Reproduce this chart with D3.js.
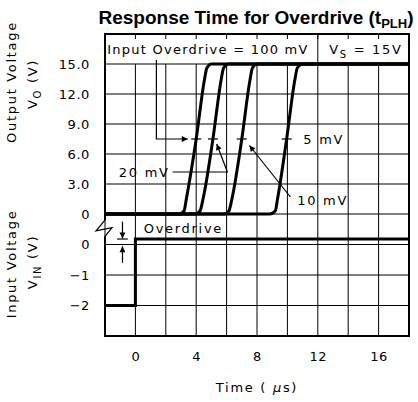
<!DOCTYPE html>
<html>
<head>
    <meta charset="utf-8">
    <title>Response Time for Overdrive</title>
    <script src='https://d3js.org/d3.v7.min.js'></script>
    <style>
        html, body { margin: 0; padding: 0; background: #fff; }
        text { font-family: 'DejaVu Sans', sans-serif; fill: #000; }
        .lbl { font-size: 13px; letter-spacing: 1.7px; }
        .tick text { font-size: 13px; letter-spacing: 0.6px; }
        .grid { stroke: #000; stroke-width: 1; }
        .trace { fill: none; stroke: #000; stroke-width: 3; }
        .thin { fill: none; stroke: #000; stroke-width: 1.2; }
    </style>
</head>
<body>
<div id="vis"></div>
<script>

// ticks
var xTicks = [0, 4, 8, 12, 16];
var voTicks = [0, 3, 6, 9, 12, 15];
var vinTicks = [0, -1, -2];

// output traces, one per overdrive (time in us, volts)
var overdrives = ['100 mV', '20 mV', '10 mV', '5 mV'];
var t100 = [-2, 2.9, 3.2, 3.35, 4.0, 4.55, 4.7, 5.0, 18];
var v100 = [0, 0, 0.3, 1.5, 7.5, 13.5, 14.6, 15, 15];
var t20 = [-2, 3.95, 4.25, 4.45, 5.1, 5.65, 5.8, 6.1, 18];
var v20 = [0, 0, 0.3, 1.5, 7.5, 13.5, 14.6, 15, 15];
var t10 = [-2, 5.85, 6.15, 6.35, 7.0, 7.55, 7.7, 8.0, 18];
var v10 = [0, 0, 0.3, 1.5, 7.5, 13.5, 14.6, 15, 15];
var t5 = [-2, 8.85, 9.2, 9.35, 9.95, 10.5, 10.65, 11.0, 18];
var v5 = [0, 0, 0.3, 1.5, 7.5, 13.5, 14.6, 15, 15];
var crossT = [4.0, 5.1, 7.0, 9.95];   // 50% points (7.5 V)

// input step
var vinT = [-2, 0, 0, 18];
var vinV = [-2, -2, 0.18, 0.18];

var width = 418, height = 402;
var svg = d3.select('#vis').append('svg')
    .attr('width', width)
    .attr('height', height);

var pLeft = 105, pRight = 409, pTop = 34, pMid = 214, pBottom = 336;

var x = d3.scaleLinear().domain([-2, 18]).range([pLeft, pRight]);
var yo = d3.scaleLinear().domain([0, 18]).range([pMid, pTop]);
var yi = d3.scaleLinear().domain([-3, 1]).range([pBottom, pMid]);

// arrow head
svg.append('defs').append('marker')
    .attr('id', 'arr')
    .attr('viewBox', '0 0 10 10')
    .attr('refX', 10).attr('refY', 5)
    .attr('markerWidth', 9).attr('markerHeight', 6)
    .attr('markerUnits', 'userSpaceOnUse')
    .attr('orient', 'auto')
    .append('path').attr('d', 'M0,0L10,5L0,10z').attr('fill', '#000');

// grid
var g = svg.append('g');
g.selectAll('.vg').data(x.ticks(10)).enter().append('line')
    .attr('class', 'grid')
    .attr('x1', function(d) { return x(d); }).attr('x2', function(d) { return x(d); })
    .attr('y1', yo(15)).attr('y2', pBottom);
g.selectAll('.vt').data(x.ticks(10)).enter().append('line')
    .attr('class', 'grid')
    .attr('x1', function(d) { return x(d); }).attr('x2', function(d) { return x(d); })
    .attr('y1', pTop).attr('y2', pTop + 5);
g.selectAll('.hgo').data(voTicks).enter().append('line')
    .attr('class', 'grid')
    .attr('x1', pLeft).attr('x2', pRight)
    .attr('y1', function(d) { return yo(d); }).attr('y2', function(d) { return yo(d); });
g.selectAll('.hgi').data(vinTicks).enter().append('line')
    .attr('class', 'grid')
    .attr('x1', pLeft).attr('x2', pRight)
    .attr('y1', function(d) { return yi(d); }).attr('y2', function(d) { return yi(d); });

// V_S box divider
g.append('line').attr('class', 'grid')
    .attr('x1', x(12)).attr('x2', x(12)).attr('y1', pTop).attr('y2', yo(15));

// frame with break on the left
svg.append('path')
    .attr('fill', 'none').attr('stroke', '#000').attr('stroke-width', 2)
    .attr('d', 'M' + pLeft + ',' + yi(0.8) + 'V' + pTop + 'H' + pRight + 'V' + pBottom + 'H' + pLeft + 'V' + yi(0.27));
svg.append('path').attr('class', 'thin')
    .attr('d', d3.line()([[pLeft, yi(0.8)], [pLeft - 9, yi(0.45)], [pLeft + 7, yi(0.55)], [pLeft, yi(0.27)]]));

// output traces
var line = d3.line().curve(d3.curveMonotoneX)
    .x(function(d) { return x(d[0]); })
    .y(function(d) { return yo(d[1]); });
var traces = [[t100, v100], [t20, v20], [t10, v10], [t5, v5]];
svg.selectAll('.trace').data(traces).enter().append('path')
    .attr('class', 'trace')
    .attr('d', function(d) { return line(d3.zip(d[0], d[1])); });

// 50% marks
svg.selectAll('.mk').data(crossT).enter().append('line')
    .attr('class', 'thin')
    .attr('x1', function(d) { return x(d) - 5; }).attr('x2', function(d) { return x(d) + 5; })
    .attr('y1', yo(7.5)).attr('y2', yo(7.5));

// input trace
svg.append('path').attr('class', 'trace')
    .attr('d', d3.line().x(function(d) { return x(d[0]); }).y(function(d) { return yi(d[1]); })(d3.zip(vinT, vinV)));

// annotations
function lbl(t, v, s, sc) {
    return svg.append('text').attr('class', 'lbl')
        .attr('x', x(t)).attr('y', (sc || yo)(v)).attr('dy', '0.35em').text(s);
}
lbl(-1.85, 16.5, 'Input Overdrive = ' + overdrives[0]).style('letter-spacing', '1.25px');
var vs = lbl(12.75, 16.5, 'V');
vs.append('tspan').attr('font-size', '10px').attr('dy', '4').text('S');
vs.append('tspan').attr('dy', '-4').text(' = 15V');
lbl(2.25, 4.2, overdrives[1]).attr('text-anchor', 'end');
lbl(10.65, 1.4, overdrives[2]);
lbl(11.05, 7.5, overdrives[3]);
lbl(0.55, 0.52, 'Overdrive', yi);

svg.append('path').attr('class', 'thin').attr('marker-end', 'url(#arr)')
    .attr('d', d3.line()([[x(1.38), yo(15.4)], [x(1.38), yo(7.5)], [x(3.45), yo(7.5)]]));
svg.append('path').attr('class', 'thin').attr('marker-end', 'url(#arr)')
    .attr('d', d3.line()([[x(2.45), yo(4.2)], [x(6.05), yo(4.2)], [x(5.35), yo(7.0)]]));
svg.append('path').attr('class', 'thin').attr('marker-end', 'url(#arr)')
    .attr('d', d3.line()([[x(10.2), yo(1.7)], [x(7.5), yo(6.85)]]));

// overdrive arrows
svg.append('path').attr('class', 'thin').attr('marker-end', 'url(#arr)')
    .attr('d', d3.line()([[x(-0.85), yi(0.75)], [x(-0.85), yi(0.2)]]));
svg.append('path').attr('class', 'thin')
    .attr('d', d3.line()([[x(-1.2), yi(0.18)], [x(-0.5), yi(0.18)]]));
svg.append('path').attr('class', 'thin').attr('marker-end', 'url(#arr)')
    .attr('d', d3.line()([[x(-0.85), yi(-0.6)], [x(-0.85), yi(-0.06)]]));

// axes (labels only)
svg.append('g').attr('transform', 'translate(0,' + pBottom + ')')
    .call(d3.axisBottom(x).tickValues(xTicks).tickSize(0).tickPadding(16));
svg.append('g').attr('transform', 'translate(' + pLeft + ',0)')
    .call(d3.axisLeft(yo).tickValues(voTicks).tickSize(0).tickPadding(15)
        .tickFormat(function(d) { return d === 0 ? '0' : d3.format('.1f')(d); }));
svg.append('g').attr('transform', 'translate(' + pLeft + ',0)')
    .call(d3.axisLeft(yi).tickValues(vinTicks).tickSize(0).tickPadding(15)
        .tickFormat(d3.format('d')));
svg.selectAll('.domain').remove();
svg.selectAll('.tick text').attr('font-family', null).attr('font-size', null);

// axis titles
var tt = svg.append('text').attr('class', 'lbl').attr('text-anchor', 'middle')
    .attr('x', 257).attr('y', 392);
tt.append('tspan').text('Time ( ');
tt.append('tspan').attr('font-style', 'italic').text('\u03bc');
tt.append('tspan').text('s)');

function ytitle(cx, cy, parts) {
    var t = svg.append('text').attr('class', 'lbl').attr('text-anchor', 'middle')
        .attr('transform', 'translate(' + cx + ',' + cy + ') rotate(-90)');
    parts.forEach(function(p) {
        t.append('tspan').attr('font-size', p[1] || null).attr('dy', p[2] || null).text(p[0]);
    });
}
ytitle(16, 82, [['Output Voltage']]);
ytitle(37, 84, [['V'], ['O', '10px', 4], [' (V)', null, -4]]);
ytitle(16, 264, [['Input Voltage']]);
ytitle(37, 262, [['V'], ['IN', '10px', 4], [' (V)', null, -4]]);

// title
var title = svg.append('text').attr('text-anchor', 'middle')
    .attr('x', 256).attr('y', 24)
    .style('font-family', "'Liberation Sans', Arial, sans-serif")
    .style('font-weight', 'bold').style('font-size', '19px')
    .text('Response Time for Overdrive (t');
title.append('tspan').style('font-size', '13px').attr('dy', 4).text('PLH');
title.append('tspan').attr('dy', -4).text(')');

</script>
</body>
</html>
